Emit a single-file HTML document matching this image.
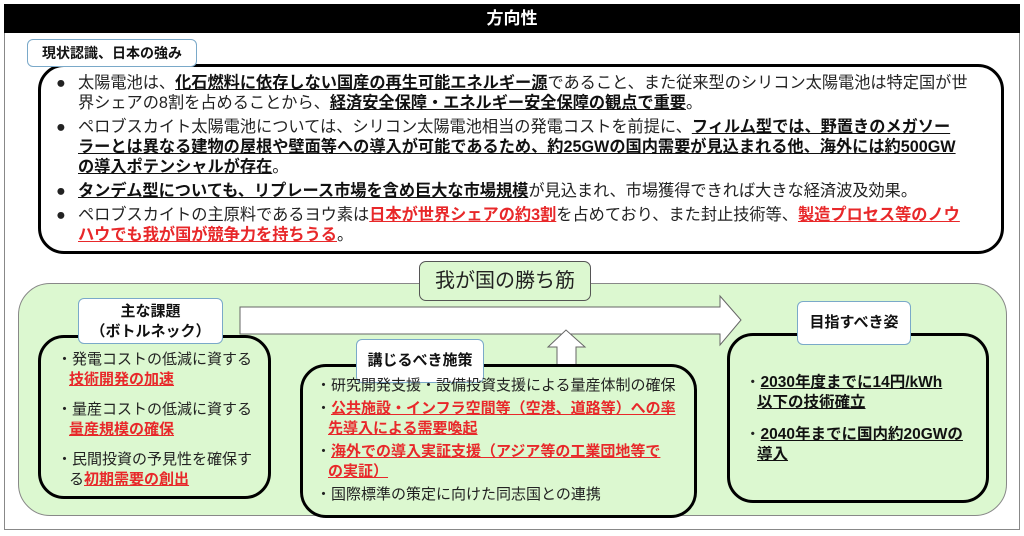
<!DOCTYPE html>
<html><head><meta charset="utf-8"><style>
*{margin:0;padding:0;box-sizing:border-box}
body{width:1024px;height:536px;background:#fff;position:relative;overflow:hidden;font-family:"Liberation Sans","Noto Sans CJK JP",sans-serif;color:#222}
.a{position:absolute}
.b{font-weight:bold;text-decoration:underline;color:#111}
.r{font-weight:bold;text-decoration:underline;color:#e8282a}
.tab{position:absolute;background:#fff;border:1px solid #7aa9c9;border-radius:6px;font-weight:bold;text-align:center;font-size:14px;color:#111}
.box{position:absolute;border:3px solid #000;border-radius:26px}
.t{font-size:15px;line-height:20px;white-space:nowrap}
.p{padding-left:22px;position:relative}
.p>i{position:absolute;left:0;font-style:normal}
</style></head><body>
<div class="a" style="left:4px;top:4px;width:1016px;height:526px;border:1px solid #888"></div>
<div class="a" style="left:4px;top:4px;width:1016px;height:29px;background:#000;color:#fff;font-weight:bold;font-size:17px;text-align:center;line-height:29px">方向性</div>
<div class="box" style="left:38px;top:64px;width:966px;height:190px;background:#fff"></div>
<div class="tab" style="left:27px;top:39px;width:170px;height:28px;line-height:26px">現状認識、日本の強み</div>
<div class="a t" style="left:56px;top:73px;width:930px;font-size:16.2px">
<div class="p" style="margin-bottom:4px"><i>●</i>太陽電池は、<span class="b">化石燃料に依存しない国産の再生可能エネルギー源</span>であること、また従来型のシリコン太陽電池は特定国が世<br>界シェアの8割を占めることから、<span class="b">経済安全保障・エネルギー安全保障の観点で重要</span>。</div>
<div class="p" style="margin-bottom:4px"><i>●</i>ペロブスカイト太陽電池については、シリコン太陽電池相当の発電コストを前提に、<span class="b">フィルム型では、野置きのメガソー<br>ラーとは異なる建物の屋根や壁面等への導入が可能であるため、約25GWの国内需要が見込まれる他、海外には約500GW<br>の導入ポテンシャルが存在</span>。</div>
<div class="p" style="margin-bottom:4px"><i>●</i><span class="b">タンデム型についても、リプレース市場を含め巨大な市場規模</span>が見込まれ、市場獲得できれば大きな経済波及効果。</div>
<div class="p"><i>●</i>ペロブスカイトの主原料であるヨウ素は<span class="r">日本が世界シェアの約3割</span>を占めており、また封止技術等、<span class="r">製造プロセス等のノウ<br>ハウでも我が国が競争力を持ちうる</span>。</div>
</div>
<div class="a" style="left:18px;top:283px;width:989px;height:233px;background:#dcf8d0;border:1px solid #888;border-radius:32px"></div>
<div class="a" style="left:419px;top:261px;width:172px;height:40px;background:#dcf8d0;border:1px solid #555;border-radius:7px;font-size:20px;text-align:center;line-height:38px;color:#222">我が国の勝ち筋</div>
<svg class="a" style="left:0;top:0" width="1024" height="536">
<polygon points="240,307 720,307 720,296 741,320 720,345 720,334 240,334" fill="#fff" stroke="#666" stroke-width="1"/>
<polygon points="557,370 557,347 548,347 566,330 585,347 576,347 576,370" fill="#fff" stroke="#666" stroke-width="1"/>
</svg>
<div class="box" style="left:38px;top:335px;width:233px;height:164px;background:#dcf8d0"></div>
<div class="tab" style="left:78px;top:298px;width:145px;height:46px;line-height:20px;padding-top:3px;font-size:15px">主な課題<br>（ボトルネック）</div>
<div class="a t" style="left:57px;top:350px;width:210px">
<div>・発電コストの低減に資する<br><span style="padding-left:12px"></span><span class="r">技術開発の加速</span></div>
<div style="margin-top:10px">・量産コストの低減に資する<br><span style="padding-left:12px"></span><span class="r">量産規模の確保</span></div>
<div style="margin-top:10px">・民間投資の予見性を確保す<br><span style="padding-left:12px"></span>る<span class="r">初期需要の創出</span></div>
</div>
<div class="box" style="left:300px;top:364px;width:397px;height:154px;background:#dcf8d0"></div>
<div class="tab" style="left:356px;top:339px;width:128px;height:44px;line-height:42px;font-size:15px">講じるべき施策</div>
<div class="a t" style="left:316px;top:376px;width:375px">
<div style="margin-bottom:3px">・研究開発支援・設備投資支援による量産体制の確保</div>
<div style="margin-bottom:3px">・<span class="r">公共施設・インフラ空間等（空港、道路等）への率<br><span style="padding-left:12px"></span>先導入による需要喚起</span></div>
<div style="margin-bottom:3px">・<span class="r">海外での導入実証支援（アジア等の工業団地等で<br><span style="padding-left:12px"></span>の実証）</span></div>
<div>・国際標準の策定に向けた同志国との連携</div>
</div>
<div class="box" style="left:727px;top:333px;width:262px;height:170px;background:#dcf8d0"></div>
<div class="tab" style="left:797px;top:301px;width:114px;height:44px;line-height:42px;font-size:15px">目指すべき姿</div>
<div class="a t" style="left:745px;top:373px;width:235px;font-size:15.5px">
<div>・<span class="b">2030年度までに14円/kWh</span><br><span style="padding-left:12px"></span><span class="b">以下の技術確立</span></div>
<div style="margin-top:12px">・<span class="b">2040年までに国内約20GWの</span><br><span style="padding-left:12px"></span><span class="b">導入</span></div>
</div>
</body></html>
